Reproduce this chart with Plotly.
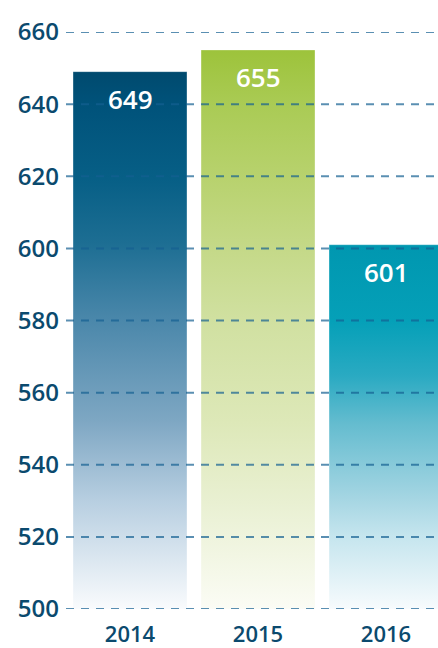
import plotly.graph_objects as go

years = ["2014", "2015", "2016"]
values = [649, 655, 601]
y_ticks = [500, 520, 540, 560, 580, 600, 620, 640, 660]

# vertical gradient stops per bar (0 = bottom, 1 = top of bar)
gradients = [
    [[0.0, "#f9fbfd"], [0.2, "#b8cfe1"], [0.35, "#7ea7c3"], [0.54, "#4a87aa"],
     [0.68, "#1d6e93"], [0.8, "#075f86"], [0.94, "#00527a"], [1.0, "#004a6e"]],
    [[0.0, "#fbfcf5"], [0.19, "#e9f0d2"], [0.335, "#dde8b8"], [0.52, "#d0e0a0"],
     [0.66, "#c3d885"], [0.77, "#b8d26e"], [0.9, "#aacb55"], [1.0, "#9dc33b"]],
    [[0.0, "#f7fbfd"], [0.2, "#c5e5ee"], [0.3, "#a6d6e3"], [0.51, "#64bccf"],
     [0.64, "#2aaac2"], [0.79, "#05a0b8"], [1.0, "#0097b0"]],
]

BASE = 500
BAR_W = 0.89
TEXT_COLOR = "#0b4a6e"
FONT = "Open Sans"

fig = go.Figure()

for i, (yr, v, grad) in enumerate(zip(years, values, gradients)):
    x0, x1 = i - BAR_W / 2, i + BAR_W / 2
    fig.add_trace(go.Scatter(
        x=[x0, x1, x1, x0, x0],
        y=[BASE, BASE, v, v, BASE],
        mode="lines",
        fill="toself",
        line=dict(width=0.8, color="rgba(255,255,255,0.35)"),
        fillgradient=dict(type="vertical", colorscale=grad, start=BASE, stop=v),
        hoverinfo="skip",
        showlegend=False,
    ))
    fig.add_annotation(
        x=i, y=v, text=str(v), showarrow=False,
        yanchor="middle", yshift=-27,
        font=dict(family=FONT, size=26, color="white", weight=600),
    )

for t in y_ticks:
    fig.add_shape(
        type="line", xref="paper", x0=0, x1=1, yref="y", y0=t, y1=t,
        line=dict(color="rgba(20,95,145,0.7)", width=2, dash="8px,7px"),
        layer="above",
    )

fig.update_layout(
    width=438, height=648,
    margin=dict(l=66, r=0, t=32, b=39),
    plot_bgcolor="white", paper_bgcolor="white",
    xaxis=dict(
        range=[-0.5, 2.406], tickmode="array", tickvals=list(range(len(years))),
        ticktext=years, showgrid=False, zeroline=False, showline=False,
        tickfont=dict(family=FONT, size=22, color=TEXT_COLOR, weight=600),
        ticklabelstandoff=10,
    ),
    yaxis=dict(
        range=[500, 660], tickmode="array", tickvals=y_ticks,
        showgrid=False, zeroline=False, showline=False,
        tickfont=dict(family=FONT, size=24, color=TEXT_COLOR, weight=600),
        ticklabelstandoff=6,
    ),
    showlegend=False,
)

fig.write_html(
    "out.html",
    config={"displayModeBar": False, "staticPlot": True},
    post_script="document.body.style.margin='0';document.body.style.overflow='hidden';",
)
